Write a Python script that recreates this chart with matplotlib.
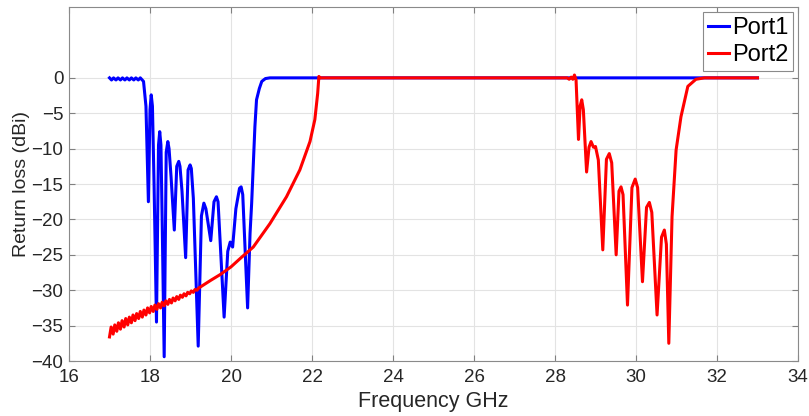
import matplotlib
matplotlib.use("Agg")
import matplotlib.pyplot as plt

# Port1 return loss (freq GHz, dB)
port1_freq = [17.00, 17.05, 17.10, 17.16, 17.21, 17.27, 17.32, 17.38, 17.43, 17.49,
              17.54, 17.60, 17.65, 17.71, 17.76, 17.84, 17.90, 17.96,
              18.00, 18.03, 18.06, 18.10, 18.16, 18.21, 18.24, 18.27, 18.30, 18.35,
              18.40, 18.44, 18.47, 18.52, 18.60, 18.66, 18.71, 18.74, 18.79, 18.88,
              18.94, 18.99, 19.02, 19.07, 19.19, 19.27, 19.33, 19.38, 19.50,
              19.58, 19.64, 19.68, 19.83, 19.92, 19.98, 20.04, 20.12, 20.21, 20.25,
              20.29, 20.41, 20.47, 20.51, 20.59, 20.63, 20.70, 20.76, 20.85, 20.96, 33.00]
port1_db = [0.0, -0.3, 0.0, -0.3, 0.0, -0.3, 0.0, -0.3, 0.0, -0.3,
            0.0, -0.3, 0.0, -0.3, 0.0, -0.5, -4.0, -17.5,
            -4.5, -2.4, -4.0, -15.0, -34.5, -9.5, -7.6, -9.5, -20.0, -39.4,
            -10.5, -9.0, -10.0, -14.0, -21.5, -12.5, -11.8, -12.5, -16.0, -25.4,
            -13.0, -12.3, -12.8, -17.0, -37.9, -19.5, -17.7, -18.5, -23.0,
            -17.5, -16.8, -17.5, -33.8, -24.5, -23.2, -23.9, -18.5, -15.6, -15.4,
            -16.5, -32.5, -22.0, -17.7, -6.9, -3.1, -1.5, -0.5, -0.1, 0.0, 0.0]

# Port2 return loss (freq GHz, dB)
port2_freq = [17.00, 17.04, 17.09, 17.13, 17.18, 17.22, 17.27, 17.31, 17.36, 17.40,
              17.45, 17.49, 17.54, 17.58, 17.63, 17.67, 17.72, 17.76, 17.81, 17.85,
              17.90, 17.94, 17.99, 18.03, 18.08, 18.12, 18.17, 18.21, 18.26, 18.30,
              18.35, 18.39, 18.44, 18.48, 18.53, 18.57, 18.62, 18.66, 18.71, 18.75,
              18.80, 18.84, 18.89, 18.93, 18.98, 19.02, 19.07, 19.11, 19.16, 19.20,
              19.50, 19.73, 20.00, 20.25, 20.55, 20.96, 21.37, 21.70, 21.95, 22.07,
              22.14, 22.17, 22.20, 28.30, 28.35, 28.40, 28.44, 28.48, 28.52, 28.58,
              28.62, 28.66, 28.70, 28.78, 28.84, 28.89, 28.95, 29.00, 29.07, 29.18,
              29.27, 29.34, 29.40, 29.51, 29.58, 29.63, 29.68, 29.79, 29.90, 29.98,
              30.04, 30.16, 30.26, 30.33, 30.39, 30.52, 30.63, 30.70, 30.75, 30.81,
              30.89, 30.99, 31.11, 31.28, 31.48, 31.69, 33.00]
port2_db = [-36.6, -35.2, -36.2, -34.9, -35.8, -34.6, -35.5, -34.3, -35.2, -34.0,
            -34.9, -33.8, -34.6, -33.5, -34.3, -33.3, -34.0, -33.0, -33.8, -32.8,
            -33.5, -32.5, -33.2, -32.3, -33.0, -32.1, -32.7, -31.9, -32.5, -31.7,
            -32.2, -31.5, -32.0, -31.3, -31.8, -31.1, -31.5, -30.9, -31.3, -30.7,
            -31.0, -30.5, -30.8, -30.3, -30.5, -30.1, -30.3, -29.9, -30.0, -29.7,
            -28.6, -27.8, -26.7, -25.4, -23.9, -20.6, -16.8, -13.0, -9.0, -5.9,
            -2.2, 0.2, 0.0, 0.0, -0.2, 0.1, -0.2, 0.4, -0.3, -8.7,
            -4.0, -3.1, -4.5, -13.3, -9.8, -9.0, -9.8, -9.7, -11.6, -24.3,
            -11.5, -10.7, -12.0, -25.0, -16.0, -15.4, -16.5, -32.1, -15.5, -14.3,
            -15.5, -28.8, -18.3, -17.6, -19.0, -33.5, -22.5, -21.5, -23.5, -37.5,
            -19.6, -10.2, -5.5, -1.2, -0.2, 0.0, 0.0]

x_ticks = list(range(16, 35, 2))
y_ticks = list(range(-40, 1, 5))

plt.rcParams["font.family"] = ["Liberation Sans", "DejaVu Sans"]

fig = plt.figure(figsize=(8.09, 4.16), dpi=100)
ax = fig.add_axes([0.0853, 0.1322, 0.9011, 0.8508])

ax.plot(port1_freq, port1_db, color="#0000ff", linewidth=2.2, label="Port1")
ax.plot(port2_freq, port2_db, color="#ff0000", linewidth=2.2, label="Port2")

ax.set_xlim(16, 34)
ax.set_ylim(-40, 10)
ax.set_xticks(x_ticks)
ax.set_yticks(y_ticks)
ax.grid(True, color="#e3e3e3", linewidth=0.8)
ax.set_axisbelow(True)
ax.tick_params(direction="in", length=4, color="#808080", labelsize=13.5,
               labelcolor="#262626", top=True, right=True)
ax.tick_params(axis="x", pad=6)
ax.tick_params(axis="y", pad=4)
for sp in ax.spines.values():
    sp.set_color("#8a8a8a")
    sp.set_linewidth(0.8)

ax.set_xlabel("Frequency GHz", fontsize=15.5, color="#262626", labelpad=3)
ax.set_ylabel("Return loss (dBi)", fontsize=14, color="#262626", labelpad=1)

leg = ax.legend(loc="upper right", bbox_to_anchor=(0.993, 0.985), fontsize=17,
                handlelength=0.9, handletextpad=0.1, borderpad=0.2,
                labelspacing=0.2, borderaxespad=0.0, fancybox=False, framealpha=1)
leg.get_frame().set_edgecolor("#8a8a8a")
leg.get_frame().set_linewidth(0.8)

fig.savefig("out.png", dpi=100)
